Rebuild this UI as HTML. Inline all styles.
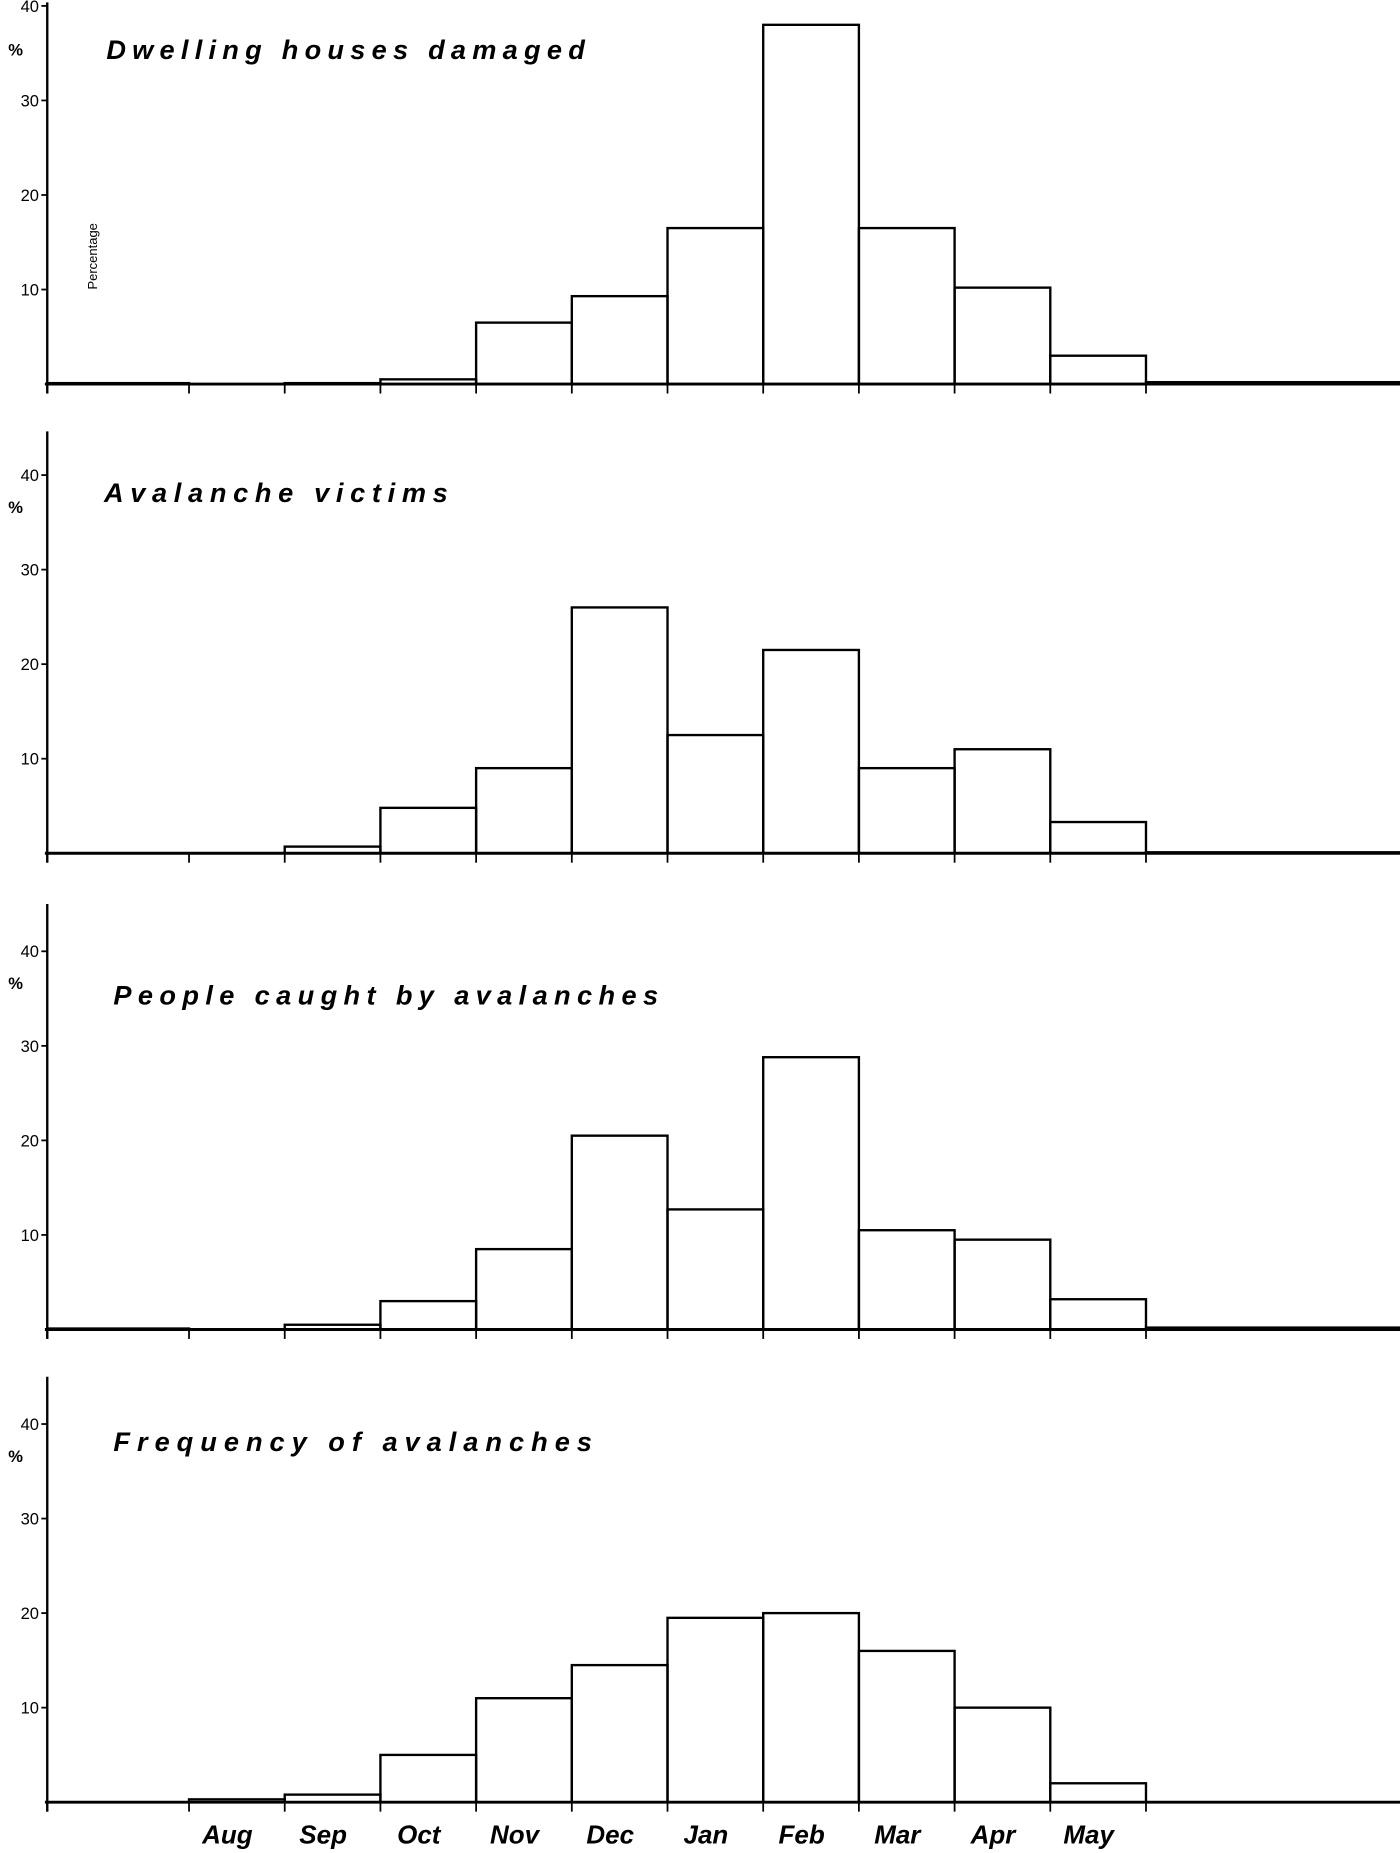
<!DOCTYPE html>
<html><head><meta charset="utf-8"><style>
html,body{margin:0;padding:0;background:#fff;}
svg{display:block;}
text{font-family:"Liberation Sans",sans-serif;fill:#000;}
.t{font-style:italic;font-weight:bold;font-size:23px;letter-spacing:5px;}
.tk{font-size:14px;}
.m{font-style:italic;font-weight:bold;font-size:22px;}
</style></head><body>
<svg id="chart" width="1400" height="1853" viewBox="0 0 1185 1568" preserveAspectRatio="none" xmlns="http://www.w3.org/2000/svg"></svg>
<script>
const months = ["Jul","Aug","Sep","Oct","Nov","Dec","Jan","Feb","Mar","Apr","May","Jun"];
const monthLabels = ["Aug","Sep","Oct","Nov","Dec","Jan","Feb","Mar","Apr","May"];
const houses = [0.1,0,0.1,0.5,6.5,9.3,16.5,38,16.5,10.2,3,0.2];
const victims = [0,0,0.7,4.8,9,26,12.5,21.5,9,11,3.3,0.1];
const caught = [0.1,0,0.5,3,8.5,20.5,12.7,28.8,10.5,9.5,3.2,0.2];
const frequency = [0,0.3,0.8,5,11,14.5,19.5,20,16,10,2,0];
const yTicks = [10,20,30,40];
const titles = ["Dwelling  houses damaged","Avalanche  victims","People  caught by avalanches","Frequency  of avalanches"];

const svg = document.getElementById('chart');
const NS = "http://www.w3.org/2000/svg";
function mk(tag, attrs, parent){ const e=document.createElementNS(NS,tag); for(const k in attrs) e.setAttribute(k,attrs[k]); (parent||svg).appendChild(e); return e; }

function xLeft(i){ return i===0 ? 40 : 160 + (i-1)*81; }
function xRight(i){ return i===11 ? 1185 : 160 + i*81; }

const panels = [
  {zero:325, series:houses, name:'houses-damaged', top:2},
  {zero:722, series:victims, name:'avalanche-victims', top:365},
  {zero:1125, series:caught, name:'people-caught', top:765},
  {zero:1525, series:frequency, name:'avalanche-frequency', top:1165}
];
const unit = 8.0;
const titleX = [90,88,96,96], titleY=[50,425,850,1228];
const titleW = [410,296,466,410];

panels.forEach((p,pi)=>{
  const g = mk('g',{});
  
  
  const y = v => p.zero - v*unit;
  p.series.forEach((v,i)=>{
    if(v<=0) return;
    const r = mk('rect',{x:xLeft(i), y:y(v), width:xRight(i)-xLeft(i), height:p.zero-y(v), fill:'none', stroke:'#000','stroke-width':2}, g);
    
    
  });
  const xa = mk('line',{x1:38,y1:p.zero,x2:1185,y2:p.zero,stroke:'#000','stroke-width':2.5}, g);
  
  
  const ya = mk('line',{x1:40,y1:p.top,x2:40,y2:p.zero+8,stroke:'#000','stroke-width':2}, g);
  
  
  for(let i=0;i<11;i++){
    const tx = i===0?40:xLeft(i);
    mk('line',{x1:tx,y1:p.zero,x2:tx,y2:p.zero+8,stroke:'#000','stroke-width':1.5}, g);
  }
  mk('line',{x1:970,y1:p.zero,x2:970,y2:p.zero+8,stroke:'#000','stroke-width':1.5}, g);
  yTicks.forEach(t=>{
    mk('line',{x1:35,y1:y(t),x2:40,y2:y(t),stroke:'#000','stroke-width':1.5}, g);
    const tl = mk('text',{x:33,y:y(t)+5,'text-anchor':'end',class:'tk'}, g);
    tl.textContent = t;
    
    
  });
  const pc = mk('text',{x:7,y:(pi===0?47:y(40)+32),class:'tk','font-weight':'bold'}, g);
  pc.textContent = '%';
  
  
  const tt = mk('text',{x:titleX[pi],y:titleY[pi],class:'t',textLength:titleW[pi],lengthAdjust:'spacing'}, g);
  tt.textContent = titles[pi];
  
  
});

const yl = mk('text',{x:0,y:0,'font-size':'11px',transform:'translate(82,245) rotate(-90)'});
yl.textContent = 'Percentage';



monthLabels.forEach((m,i)=>{
  const cx = (xLeft(i+1)+xRight(i+1))/2 - 8;
  const t = mk('text',{x:cx,y:1560,'text-anchor':'middle',class:'m'});
  t.textContent = m;
  
  
});
</script>
</body></html>
